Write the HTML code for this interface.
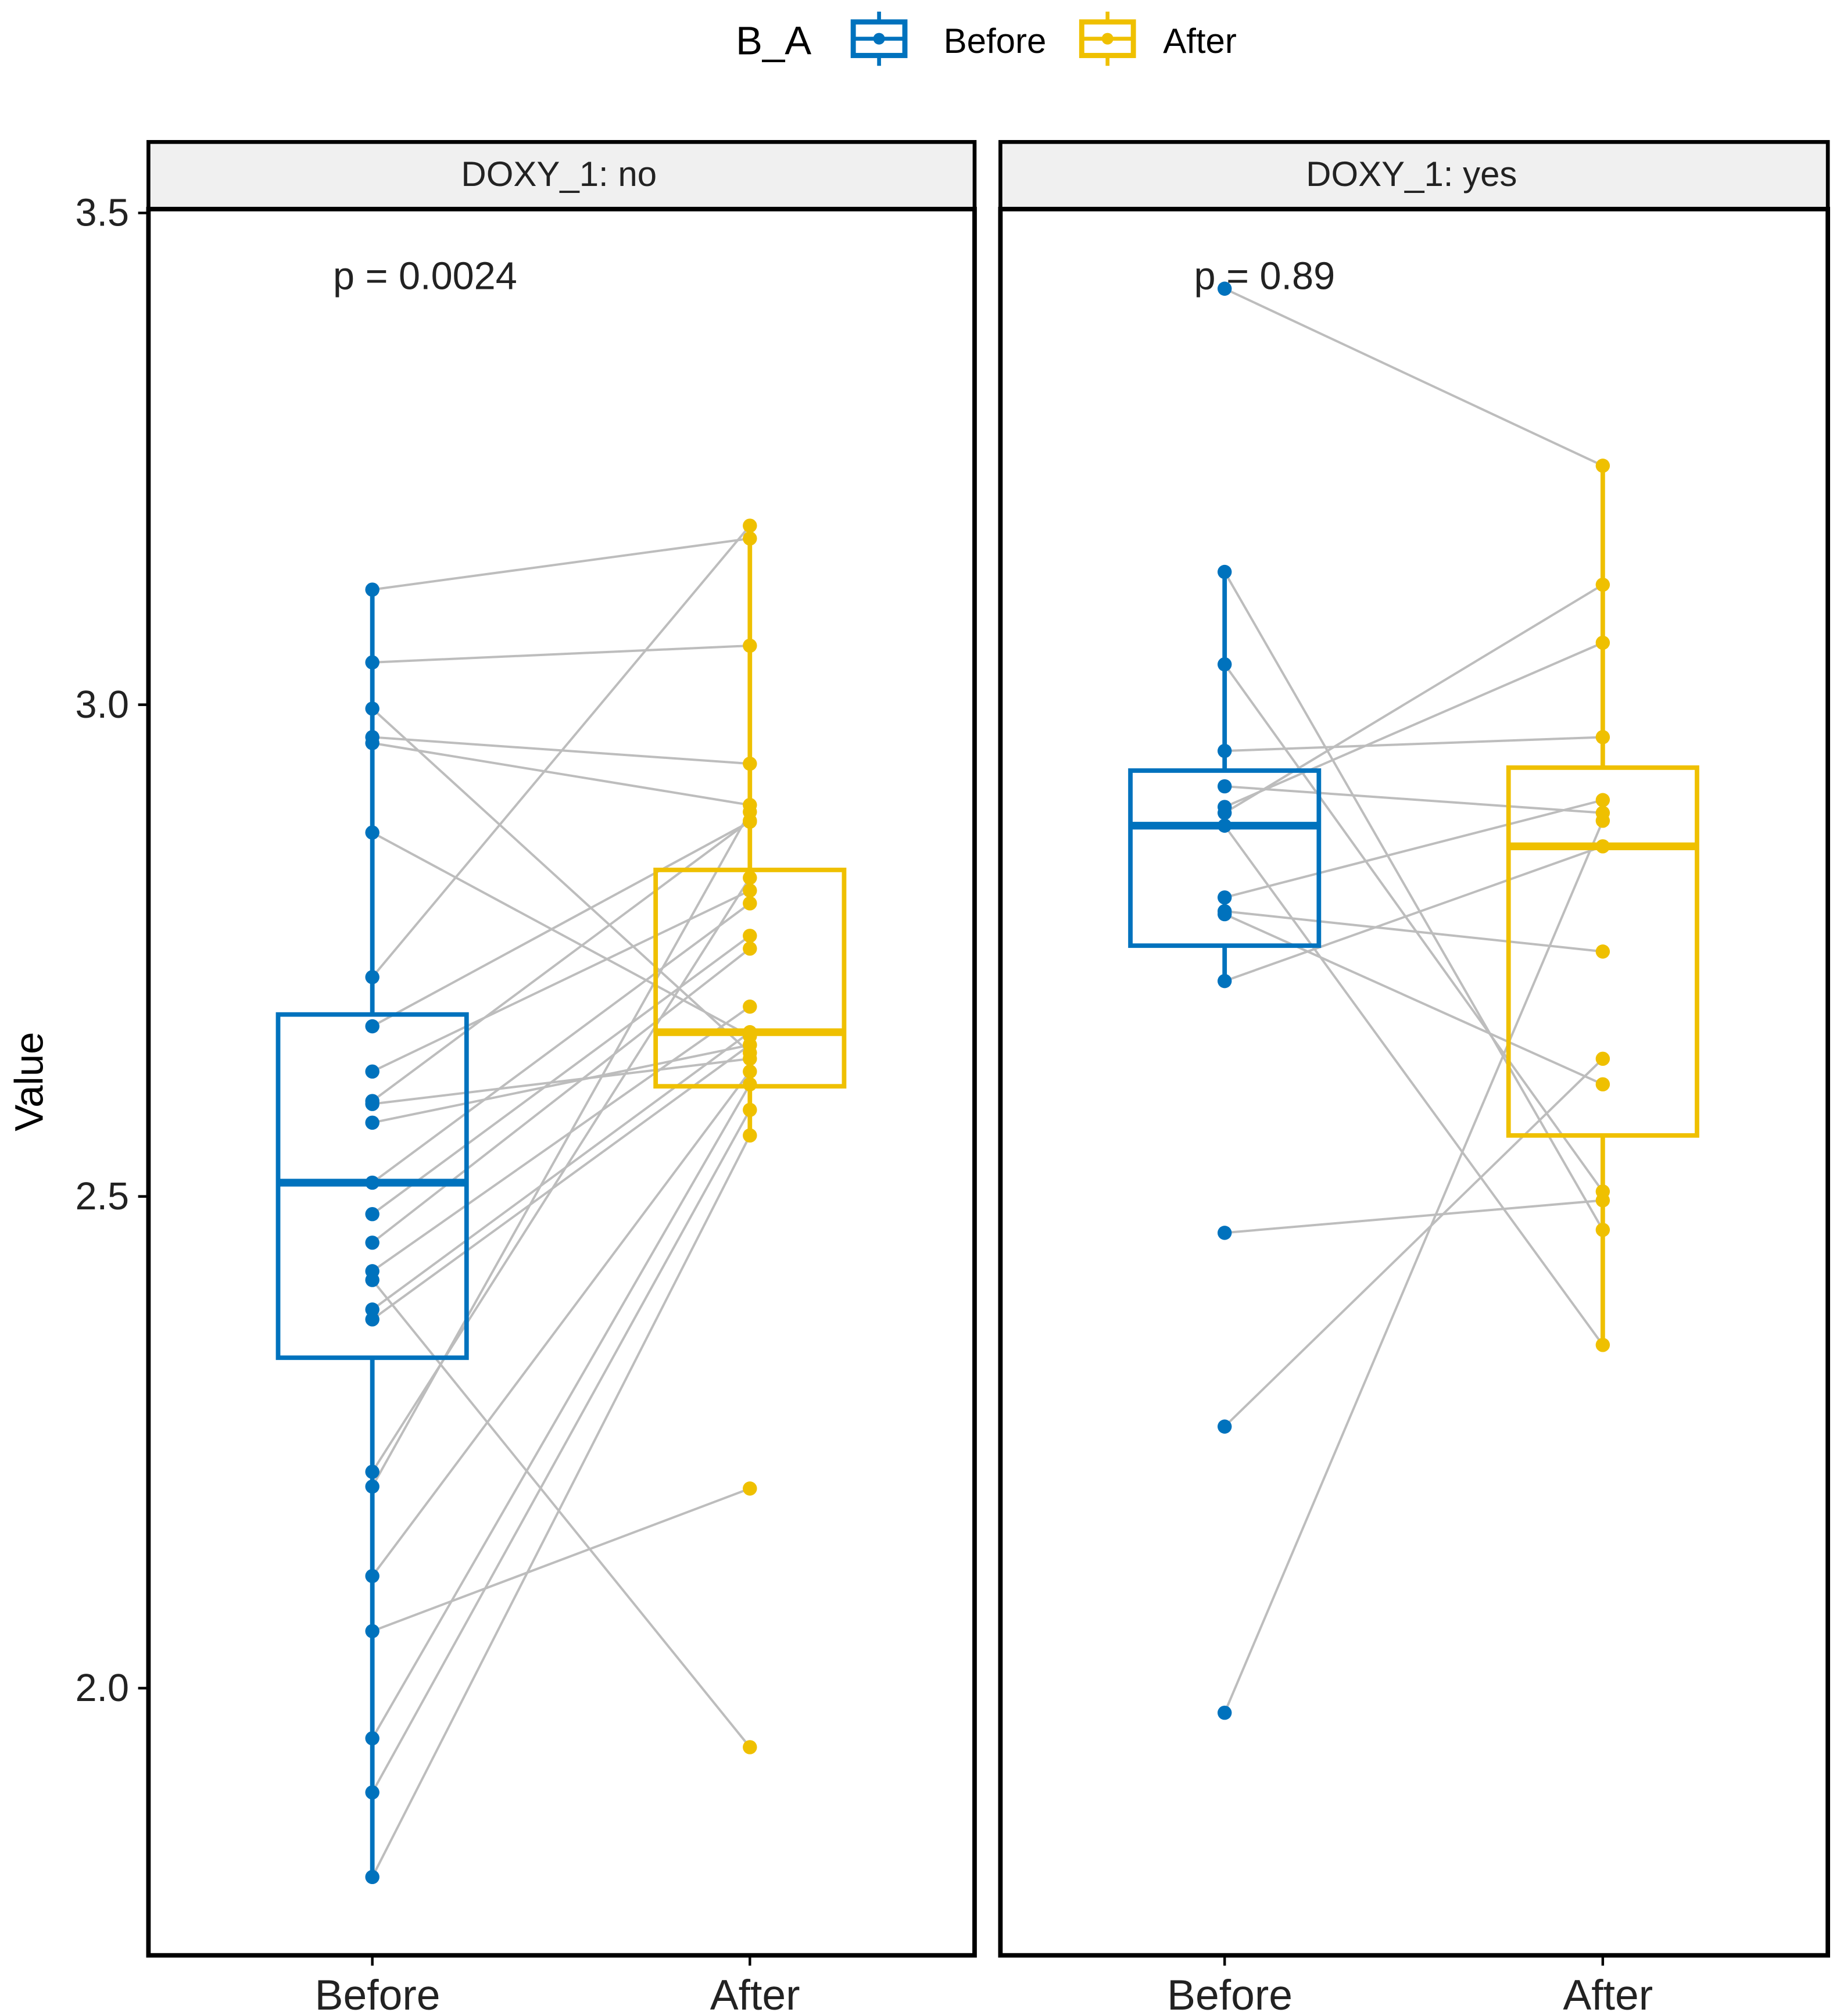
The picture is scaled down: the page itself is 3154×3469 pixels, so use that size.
<!DOCTYPE html>
<html><head><meta charset="utf-8"><style>html,body{margin:0;padding:0;background:#fff}svg{display:block}</style></head>
<body>
<svg id="chart" xmlns="http://www.w3.org/2000/svg" width="3154" height="3469" viewBox="0 0 1420 1562" preserveAspectRatio="none" font-family="Liberation Sans, sans-serif">
<rect width="1420" height="1562" fill="#fff"/>
<g id="legend">
  <text x="570" y="42" font-size="31">B_A</text>
  <g>
    <line x1="681" y1="9" x2="681" y2="51" stroke="#0072BD" stroke-width="3"/>
    <rect x="661" y="17" width="40" height="26" fill="#fff" stroke="#0072BD" stroke-width="4"/>
    <line x1="661" y1="30" x2="701" y2="30" stroke="#0072BD" stroke-width="3"/>
    <circle cx="681" cy="30" r="4.5" fill="#0072BD"/>
    <text x="731" y="41" font-size="27">Before</text>
  </g>
  <g>
    <line x1="858" y1="9" x2="858" y2="51" stroke="#EFC000" stroke-width="3"/>
    <rect x="838" y="17" width="40" height="26" fill="#fff" stroke="#EFC000" stroke-width="4"/>
    <line x1="838" y1="30" x2="878" y2="30" stroke="#EFC000" stroke-width="3"/>
    <circle cx="858" cy="30" r="4.5" fill="#EFC000"/>
    <text x="901" y="41" font-size="27">After</text>
  </g>
</g>
<text transform="translate(33,838) rotate(-90)" text-anchor="middle" font-size="31">Value</text>
<g id="yaxis"></g>
<g id="panels"></g>
</svg>
<script>
const yTicks = [2.0, 2.5, 3.0, 3.5];
const yTickLabels = ["2.0", "2.5", "3.0", "3.5"];
const groups = ["Before", "After"];
const panelTitles = ["DOXY_1: no", "DOXY_1: yes"];
const pLabels = ["p = 0.0024", "p = 0.89"];
const noBefore = [3.117,3.043,2.996,2.967,2.961,2.870,2.723,2.673,2.627,2.597,2.594,2.575,2.514,2.482,2.453,2.424,2.415,2.385,2.375,2.220,2.205,2.114,2.058,1.949,1.894,1.808];
const noAfter  = [3.169,3.060,2.646,2.940,2.898,2.663,3.182,2.881,2.811,2.882,2.640,2.654,2.798,2.765,2.752,2.693,1.940,2.667,2.654,2.824,2.891,2.627,2.203,2.614,2.588,2.562];
const yesBefore = [3.423,3.135,3.041,2.953,2.917,2.896,2.890,2.877,2.804,2.790,2.787,2.719,2.463,2.266,1.975];
const yesAfter  = [3.243,2.466,2.505,2.967,2.890,3.063,3.122,2.349,2.903,2.749,2.614,2.856,2.496,2.640,2.882];
// box statistics per panel: [Before, After]
const boxLow    = [[1.807, 2.562], [2.719, 2.349]];
const boxQ1     = [[2.336, 2.612], [2.755, 2.562]];
const boxMedian = [[2.514, 2.667], [2.877, 2.856]];
const boxQ3     = [[2.685, 2.832], [2.933, 2.936]];
const boxHigh   = [[3.117, 3.182], [3.135, 3.243]];

const NS = "http://www.w3.org/2000/svg";
const colors = ["#0072BD", "#EFC000"];
const plotTop = 162, plotBot = 1515;
const panelsX = [[115, 755], [775, 1416]];
function yScale(v) { return 165 + (3.5 - v) * 762; }
function xScale(p, g) { const [a, b] = panelsX[p]; return a + (b - a) * (g === 0 ? 0.271 : 0.728); }
function mk(tag, attrs, parent) { const e = document.createElementNS(NS, tag); for (const k in attrs) e.setAttribute(k, attrs[k]); parent.appendChild(e); return e; }

const yaxis = document.getElementById('yaxis');
yTicks.forEach((t, i) => {
  const y = yScale(t);
  const tk = mk('line', { x1: 107, x2: 115, y1: y, y2: y, stroke: '#000', 'stroke-width': 2 }, yaxis);
  
  
  const lb = mk('text', { x: 100, y: y + 10, 'text-anchor': 'end', 'font-size': 30, fill: '#222' }, yaxis);
  lb.textContent = yTickLabels[i];
  
  
});

const panelsG = document.getElementById('panels');
const data = [[noBefore, noAfter], [yesBefore, yesAfter]];
data.forEach((pd, p) => {
  const [x0, x1] = panelsX[p];
  const g = mk('g', {}, panelsG);
  
  
  const strip = mk('rect', { x: x0, y: 110, width: x1 - x0, height: 52, fill: '#f0f0f0', stroke: '#000', 'stroke-width': 3 }, g);
  
  
  const st = mk('text', { x: (x0 + x1) / 2 - 2, y: 144, 'text-anchor': 'middle', 'font-size': 27, fill: '#222' }, g);
  st.textContent = panelTitles[p];
  
  
  const bx = xScale(p, 0), ax = xScale(p, 1);
  pd[0].forEach((v, i) => {
    const l = mk('line', { x1: bx, y1: yScale(v), x2: ax, y2: yScale(pd[1][i]), stroke: '#bdbdbd', 'stroke-width': 1.8 }, g);
    
    
  });
  pd.forEach((vals, gi) => {
    const cx = xScale(p, gi), col = colors[gi];
    const q1 = boxQ1[p][gi], med = boxMedian[p][gi], q3 = boxQ3[p][gi], lo = boxLow[p][gi], hi = boxHigh[p][gi];
    const bg = mk('g', {}, g);
    
    
    mk('line', { x1: cx, x2: cx, y1: yScale(hi), y2: yScale(q3), stroke: col, 'stroke-width': 3.5 }, bg);
    mk('line', { x1: cx, x2: cx, y1: yScale(q1), y2: yScale(lo), stroke: col, 'stroke-width': 3.5 }, bg);
    mk('rect', { x: cx - 73, y: yScale(q3), width: 146, height: yScale(q1) - yScale(q3), fill: 'none', stroke: col, 'stroke-width': 3.5 }, bg);
    mk('line', { x1: cx - 73, x2: cx + 73, y1: yScale(med), y2: yScale(med), stroke: col, 'stroke-width': 6 }, bg);
    vals.forEach(v => {
      const c = mk('circle', { cx: cx, cy: yScale(v), r: 5.5, fill: col }, g);
      
      
    });
    const tk = mk('line', { x1: cx, x2: cx, y1: plotBot, y2: plotBot + 8, stroke: '#000', 'stroke-width': 2 }, g);
    
    
    const xl = mk('text', { x: cx + 4, y: plotBot + 42, 'text-anchor': 'middle', 'font-size': 33, fill: '#222' }, g);
    xl.textContent = groups[gi];
    
    
  });
  const pt = mk('text', { x: p === 0 ? 258 : 925, y: 224, 'font-size': 30, fill: '#222' }, g);
  pt.textContent = pLabels[p];
  
  
  const fr = mk('rect', { x: x0, y: plotTop, width: x1 - x0, height: plotBot - plotTop, fill: 'none', stroke: '#000', 'stroke-width': 3.5 }, g);
  
  
});
</script>
</body></html>
